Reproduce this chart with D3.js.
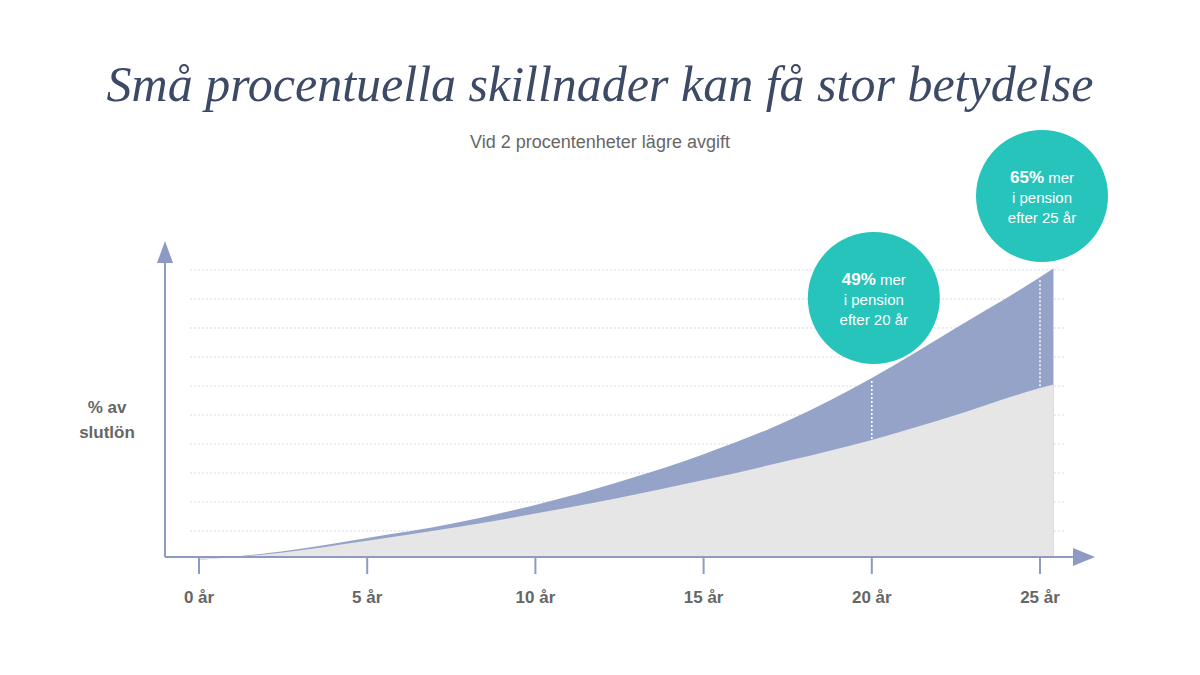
<!DOCTYPE html>
<html><head><meta charset="utf-8">
<script src="https://cdn.jsdelivr.net/npm/d3@7"></script>
<style>body{margin:0;background:#fff}svg{display:block}</style>
</head><body>
<svg id="chart" width="1200" height="675"></svg>
<script>
const years = [0, 2.5, 5, 7.5, 10, 12.5, 15, 17.5, 20, 22.5, 25, 25.4];
// upper band = lower-fee scenario, lower band = current fee
const upper = [0, 0.3, 0.76, 1.25, 1.9, 2.7, 3.65, 4.8, 6.28, 8.0, 9.75, 10.05];
const lower = [0, 0.26, 0.66, 1.1, 1.6, 2.15, 2.76, 3.42, 4.14, 5.0, 5.93, 6.05];
const tickYears = [0, 5, 10, 15, 20, 25];
const callouts = [
  {year: 20, pct: "49%", text: "efter 20 år", cy: 298},
  {year: 25, pct: "65%", text: "efter 25 år", cy: 196}
];

const svg = d3.select("#chart");
const x = d3.scaleLinear().domain([0, 25]).range([199, 1040]);
const y = d3.scaleLinear().domain([0, 10]).range([560, 270]);
const axisCol = "#8e9ac4";

svg.append("text").attr("x", 600).attr("y", 101).attr("text-anchor", "middle")
  .attr("font-family", "Liberation Serif, serif").attr("font-style", "italic")
  .attr("font-size", 50).attr("fill", "#3d4a66")
  .text("Små procentuella skillnader kan få stor betydelse");
svg.append("text").attr("x", 600).attr("y", 148).attr("text-anchor", "middle")
  .attr("font-family", "Arial, Liberation Sans, sans-serif").attr("font-size", 18)
  .attr("fill", "#666").text("Vid 2 procentenheter lägre avgift");

// grid
svg.append("g").selectAll("line").data(d3.range(1, 11)).join("line")
  .attr("x1", 190).attr("x2", 1065).attr("y1", d => y(d)).attr("y2", d => y(d))
  .attr("stroke", "#d6dbe8").attr("stroke-dasharray", "2,2");

const pts = years.map((t, i) => ({t, u: upper[i], l: lower[i]}));
svg.append("path").datum(pts)
  .attr("d", d3.area().x(d => x(d.t)).y0(557).y1(d => y(d.u)).curve(d3.curveMonotoneX))
  .attr("fill", "#96a3c9");
svg.append("path").datum(pts)
  .attr("d", d3.area().x(d => x(d.t)).y0(557).y1(d => y(d.l)).curve(d3.curveMonotoneX))
  .attr("fill", "#e6e6e6");

// dashed markers
callouts.forEach(c => {
  const i = years.indexOf(c.year);
  svg.append("line").attr("x1", x(c.year)).attr("x2", x(c.year))
    .attr("y1", y(upper[i]) + 3).attr("y2", y(lower[i]))
    .attr("stroke", "#fff").attr("stroke-width", 1.5).attr("stroke-dasharray", "2,2");
});

// axes
svg.append("line").attr("x1", 165).attr("x2", 1078).attr("y1", 557).attr("y2", 557)
  .attr("stroke", axisCol).attr("stroke-width", 2);
svg.append("path").attr("d", "M1095,557 L1073,548 L1073,566 Z").attr("fill", axisCol);
svg.append("line").attr("x1", 165).attr("x2", 165).attr("y1", 557).attr("y2", 258)
  .attr("stroke", axisCol).attr("stroke-width", 2);
svg.append("path").attr("d", "M165,241 L157,263 L173,263 Z").attr("fill", axisCol);

const tg = svg.append("g").selectAll("g").data(tickYears).join("g")
  .attr("transform", d => `translate(${x(d)},0)`);
tg.append("line").attr("y1", 557).attr("y2", 574).attr("stroke", axisCol).attr("stroke-width", 2);
tg.append("text").attr("y", 603).attr("text-anchor", "middle")
  .attr("font-family", "Arial, Liberation Sans, sans-serif").attr("font-weight", "bold")
  .attr("font-size", 17).attr("fill", "#666").text(d => `${d} år`);

svg.append("text").attr("text-anchor", "middle")
  .attr("font-family", "Arial, Liberation Sans, sans-serif").attr("font-weight", "bold")
  .attr("font-size", 17).attr("fill", "#666")
  .selectAll("tspan").data(["% av", "slutlön"]).join("tspan")
  .attr("x", 107).attr("y", (d, i) => 413 + i * 25).text(d => d);

// callout circles
callouts.forEach(c => {
  const cx = x(c.year) + 2;
  svg.append("circle").attr("cx", cx).attr("cy", c.cy).attr("r", 66).attr("fill", "#26c4bb");
  const t = svg.append("text").attr("text-anchor", "middle")
    .attr("font-family", "Arial, Liberation Sans, sans-serif").attr("fill", "#fff").attr("font-size", 15);
  const l1 = t.append("tspan").attr("x", cx).attr("y", c.cy - 13);
  l1.append("tspan").attr("font-weight", "bold").attr("font-size", 17).text(c.pct);
  l1.append("tspan").text(" mer");
  t.append("tspan").attr("x", cx).attr("y", c.cy + 7).text("i pension");
  t.append("tspan").attr("x", cx).attr("y", c.cy + 27).text(c.text);
});
</script>
</body></html>
